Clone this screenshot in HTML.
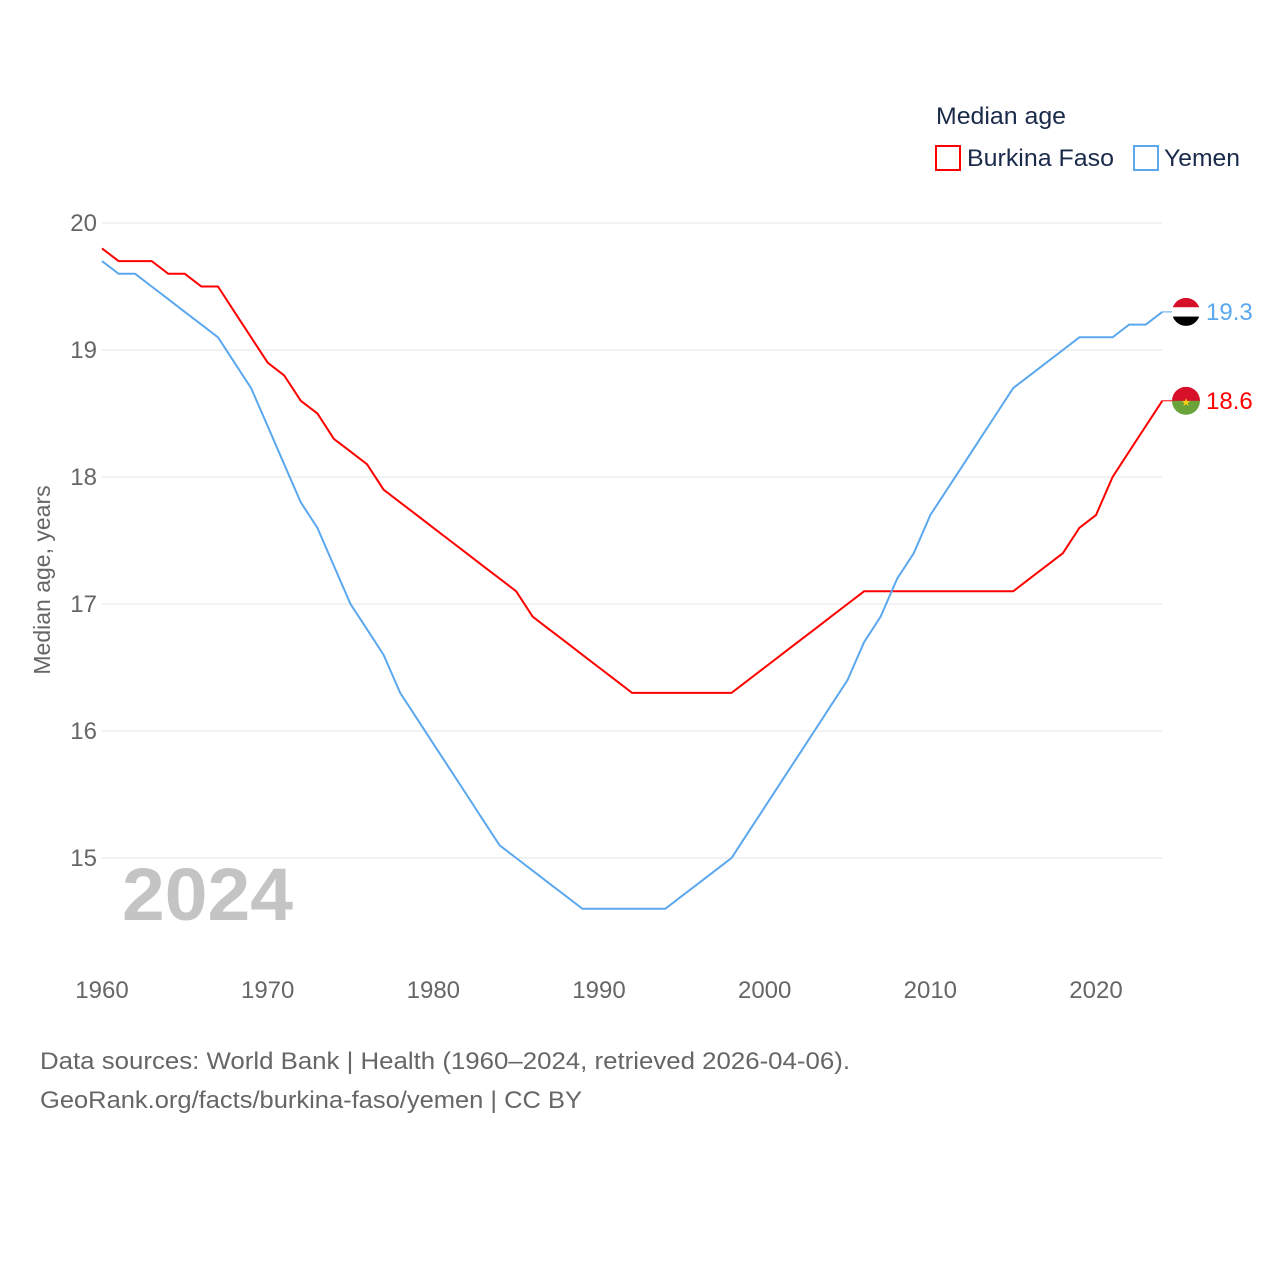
<!DOCTYPE html>
<html><head><meta charset="utf-8"><style>
body{margin:0;background:#fff;font-family:"Liberation Sans",sans-serif;}
svg text{font-family:"Liberation Sans",sans-serif;}
</style></head><body>
<svg id="chart" width="1280" height="1280" xmlns="http://www.w3.org/2000/svg">
<rect width="1280" height="1280" fill="#fff"/>
<g id="grid"></g>
<g id="xticks"></g>
<g id="yticks"></g>
<text x="122" y="920" font-size="74" font-weight="bold" fill="#c4c4c4" textLength="171" lengthAdjust="spacingAndGlyphs">2024</text>
<g id="lines"></g>
<text transform="translate(50,580) rotate(-90)" text-anchor="middle" font-size="23" fill="#666">Median age, years</text>
<text x="936" y="124" font-size="24" fill="#1a2a4a" textLength="130" lengthAdjust="spacingAndGlyphs">Median age</text>
<g>
<rect x="936" y="146" width="24" height="24" fill="none" stroke="#ff0000" stroke-width="2"/>
<text x="967" y="166" font-size="24" fill="#1a2a4a" textLength="147" lengthAdjust="spacingAndGlyphs">Burkina Faso</text></g>
<g>
<rect x="1134" y="146" width="24" height="24" fill="none" stroke="#5ba8ef" stroke-width="2"/>
<text x="1164" y="166" font-size="24" fill="#1a2a4a" textLength="76" lengthAdjust="spacingAndGlyphs">Yemen</text></g>
<text x="40" y="1069" font-size="24" fill="#666" textLength="810" lengthAdjust="spacingAndGlyphs">Data sources: World Bank | Health (1960–2024, retrieved 2026-04-06).</text>
<text x="40" y="1108" font-size="24" fill="#666" textLength="542" lengthAdjust="spacingAndGlyphs">GeoRank.org/facts/burkina-faso/yemen | CC BY</text>
</svg>
<script>
const years=[];for(let y=1960;y<=2024;y++)years.push(y);
const burkina=[19.8,19.7,19.7,19.7,19.6,19.6,19.5,19.5,19.3,19.1,18.9,18.8,18.6,18.5,18.3,18.2,18.1,17.9,17.8,17.7,17.6,17.5,17.4,17.3,17.2,17.1,16.9,16.8,16.7,16.6,16.5,16.4,16.3,16.3,16.3,16.3,16.3,16.3,16.3,16.4,16.5,16.6,16.7,16.8,16.9,17.0,17.1,17.1,17.1,17.1,17.1,17.1,17.1,17.1,17.1,17.1,17.2,17.3,17.4,17.6,17.7,18.0,18.2,18.4,18.6];
const yemen=[19.7,19.6,19.6,19.5,19.4,19.3,19.2,19.1,18.9,18.7,18.4,18.1,17.8,17.6,17.3,17.0,16.8,16.6,16.3,16.1,15.9,15.7,15.5,15.3,15.1,15.0,14.9,14.8,14.7,14.6,14.6,14.6,14.6,14.6,14.6,14.7,14.8,14.9,15.0,15.2,15.4,15.6,15.8,16.0,16.2,16.4,16.7,16.9,17.2,17.4,17.7,17.9,18.1,18.3,18.5,18.7,18.8,18.9,19.0,19.1,19.1,19.1,19.2,19.2,19.3];
const xTicks=[1960,1970,1980,1990,2000,2010,2020];
const yTicks=[15,16,17,18,19,20];
const NS="http://www.w3.org/2000/svg";
const X=y=>102+(y-1960)*(1096-102)/60;
const Y=v=>858-(v-15)*127;
function mk(t,a,p){const e=document.createElementNS(NS,t);for(const k in a)e.setAttribute(k,a[k]);p.appendChild(e);return e;}
const grid=document.getElementById('grid'),yt=document.getElementById('yticks'),xt=document.getElementById('xticks'),lines=document.getElementById('lines');
yTicks.forEach(v=>{
const l=mk('line',{x1:102,x2:1162,y1:Y(v),y2:Y(v),stroke:'#e6e6e6','stroke-width':1},grid);


const t=mk('text',{x:97,y:Y(v)+8,'text-anchor':'end','font-size':24,fill:'#666'},yt);t.textContent=v;


});
xTicks.forEach(v=>{
const t=mk('text',{x:X(v),y:998,'text-anchor':'middle','font-size':24,fill:'#666'},xt);t.textContent=v;


});
function series(data,color,name,flag){
const p=mk('path',{d:data.map((v,i)=>(i?'L':'M')+X(years[i]).toFixed(1)+','+Y(v).toFixed(1)).join(''),fill:'none',stroke:color,'stroke-width':2},lines);


const last=data[data.length-1],ly=Y(last),lx=X(2024);
mk('line',{x1:lx,x2:lx+12,y1:ly,y2:ly,stroke:color,'stroke-width':1},lines);
const g=mk('g',{},lines);


const cx=1186,r=14;
const cp=mk('clipPath',{id:'c'+name},g);mk('circle',{cx:cx,cy:ly,r:r},cp);
flag.forEach((c,i)=>mk('rect',{x:cx-r,y:ly-r+i*2*r/flag.length,width:2*r,height:2*r/flag.length+0.5,fill:c,'clip-path':'url(#c'+name+')'},g));
const t=mk('text',{x:1206,y:ly+8,'font-size':24,fill:color},lines);t.textContent=last.toFixed(1);


return ly;
}
const by=series(burkina,'#ff0000','burkina-faso',['#d7102a','#6aa33a']);
mk('text',{x:1186,y:by+5,'text-anchor':'middle','font-size':11,fill:'#fcd116'},lines).textContent='★';
series(yemen,'#5ba8ef','yemen',['#d7102a','#ffffff','#000000']);
</script>
</body></html>
